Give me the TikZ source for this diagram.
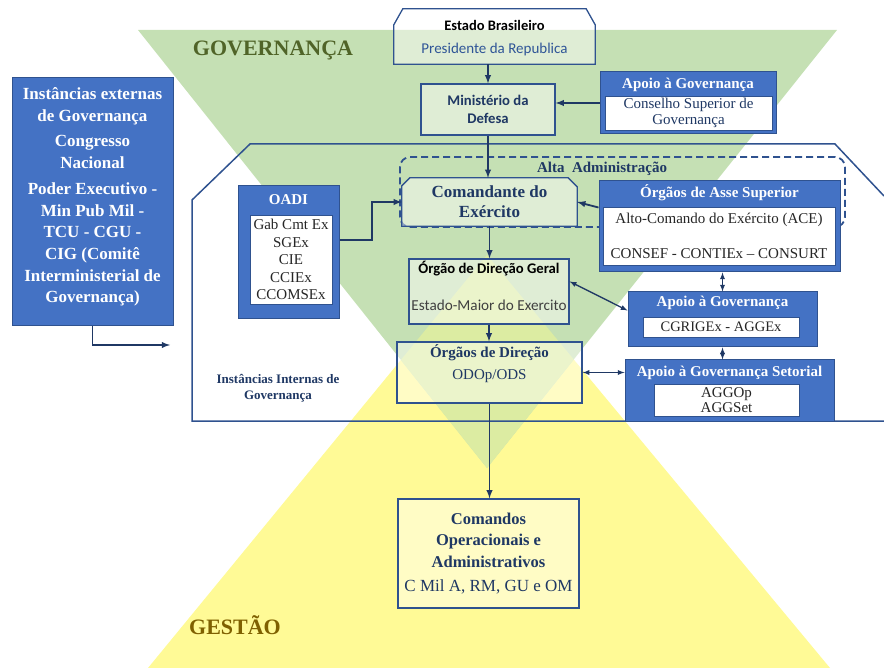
\documentclass[tikz,border=0pt]{standalone}
\usepackage{fontspec}
\setmainfont{Liberation Serif}
\newfontfamily\calibri{Carlito}

\definecolor{govgreen}{RGB}{197,224,180}
\definecolor{gestyellow}{RGB}{255,250,150}
\definecolor{overlapcol}{RGB}{220,236,162}
\definecolor{bluefill}{RGB}{68,114,196}
\definecolor{bordblue}{RGB}{47,82,143}
\definecolor{navy}{RGB}{31,56,100}
\definecolor{presblue}{RGB}{47,85,151}
\definecolor{govtext}{RGB}{80,100,40}
\definecolor{gesttext}{RGB}{127,96,0}

\begin{document}
\begin{tikzpicture}[>=latex, x=1pt, y=-1pt,
    lightbox/.style={draw=bordblue, line width=1.3pt, fill=white, fill opacity=0.45, text opacity=1, inner sep=0pt, align=center},
    slot/.style={inner sep=0pt},
    bluebox/.style={draw=bordblue, line width=1pt, fill=bluefill, inner sep=0pt},
    whitebox/.style={draw=bordblue, line width=0.8pt, fill=white, inner sep=0pt, align=center, text=black!85, font=\fontsize{15}{16.5}\selectfont},
    bluetitle/.style={text=white, font=\bfseries\fontsize{15}{16}\selectfont},
    link/.style={->, draw=navy, line width=1.8pt},
    twoway/.style={<->, draw=navy, line width=1.3pt},
]
    \useasboundingbox (0,0) rectangle (884,668);

    % Fundo: governanca e gestao
    \fill[gestyellow] (487,255) -- (148,668) -- (830,668) -- cycle;
    \fill[govgreen] (138,30) -- (837,30) -- (487,468) -- cycle;
    \begin{scope}
        \clip (138,30) -- (837,30) -- (487,468) -- cycle;
        \fill[overlapcol] (487,255) -- (148,668) -- (830,668) -- cycle;
    \end{scope}
    \node[text=govtext, font=\bfseries\fontsize{22}{24}\selectfont] (govLbl) at (273,50) {GOVERNANÇA};
    \node[text=gesttext, font=\bfseries\fontsize{22}{24}\selectfont] (gestLbl) at (235,625) {GESTÃO};

    % Instancias internas
    \draw[bordblue, line width=1.5pt] (884,421) -- (192,421) -- (192,200) -- (250,144) -- (835,144) -- (884,196);
    \node[text=navy, font=\bfseries\fontsize{13}{16}\selectfont, align=center] (intLbl) at (278,388) {Instâncias Internas de\\Governança};

    % Alta Administracao
    \node[draw=bordblue, dashed, dash pattern=on 7pt off 4pt, line width=1.8pt, rounded corners=10pt,
          minimum width=445pt, minimum height=70pt] (alta) at (622.5,192) {};
    \node[text=navy, font=\bfseries\fontsize{15}{17}\selectfont] (altaLbl) at (602,169) {Alta\ \ Administração};

    % Estado e Ministerio
    \node[slot, minimum width=201pt, minimum height=55pt] (est) at (494.5,36.5) {};
    \draw[lightbox] (est.south west) -- ([yshift=-16pt]est.north west) -- ([xshift=9pt]est.north west)
        -- ([xshift=-9pt]est.north east) -- ([yshift=-16pt]est.north east) -- (est.south east) -- cycle;
    \node[font=\calibri\bfseries\fontsize{14.5}{16}\selectfont] (estT) at (494.5,25) {Estado Brasileiro};
    \node[text=presblue, font=\calibri\fontsize{15}{17}\selectfont] (presT) at (494.5,50) {Presidente da Republica};
    \node[lightbox, minimum width=134pt, minimum height=51pt, text=navy,
          font=\calibri\bfseries\fontsize{14.7}{17.5}\selectfont] (min) at (488,109.5) {Ministério da\\Defesa};

    % Apoio a Governanca (Conselho)
    \node[bluebox, minimum width=176pt, minimum height=62pt] (apg) at (688,103) {};
    \node[bluetitle] (apgT) at (688,85) {Apoio à Governança};
    \node[whitebox, minimum width=167pt, minimum height=34pt, text=navy] (apgIn) at (688.5,113) {Conselho Superior de\\Governança};

    % Instancias externas
    \node[bluebox, minimum width=161pt, minimum height=248pt] (ext) at (92.5,202) {};
    \node[text=white, font=\bfseries\fontsize{17}{21.7}\selectfont, align=center] (extT) at (92.5,197)
        {Instâncias externas\\de Governança\\[4pt]Congresso\\Nacional\\[4pt]Poder Executivo -\\Min Pub Mil -\\TCU - CGU -\\CIG (Comitê\\Interministerial de\\Governança)};
    \coordinate (extEnd) at (170,345);

    % Comandante
    \node[slot, minimum width=175pt, minimum height=48pt] (cmte) at (489.5,202) {};
    \draw[lightbox] (cmte.south west) -- ([yshift=-8pt]cmte.north west) -- ([xshift=8pt]cmte.north west)
        -- ([xshift=-9pt]cmte.north east) -- ([yshift=-9pt]cmte.north east) -- (cmte.south east) -- cycle;
    \node[text=navy, font=\bfseries\fontsize{17}{20}\selectfont, align=center] (cmteT) at (cmte.center) {Comandante do\\Exército};

    % OADI
    \node[bluebox, minimum width=101pt, minimum height=133pt] (oadi) at (288.5,252.5) {};
    \node[bluetitle] (oadiT) at (288.5,200) {OADI};
    \node[whitebox, minimum width=82pt, minimum height=89pt, font=\fontsize{15}{17.5}\selectfont] (oadiIn) at (291,259.5)
        {Gab Cmt Ex\\SGEx\\CIE\\CCIEx\\CCOMSEx};

    % Orgaos de Asse Superior
    \node[bluebox, minimum width=241pt, minimum height=91pt] (ose) at (719.5,226.5) {};
    \node[bluetitle] (oseT) at (719.5,193) {Órgãos de Asse Superior};
    \node[whitebox, minimum width=232pt, minimum height=58pt] (oseIn) at (719,236)
        {Alto-Comando do Exército (ACE)\\[19pt]CONSEF - CONTIEx -- CONSURT};

    % Orgao de Direcao Geral
    \node[lightbox, minimum width=160pt, minimum height=65pt] (odg) at (489,291.5) {};
    \node[font=\calibri\bfseries\fontsize{14.7}{16}\selectfont] (odgT) at (489,269) {Órgão de Direção Geral};
    \node[text=black!75, font=\calibri\fontsize{15.2}{17}\selectfont] (emeT) at (489,305) {Estado-Maior do Exercito};

    % Apoio a Governanca
    \node[bluebox, minimum width=189pt, minimum height=55pt] (agv) at (722.5,319.5) {};
    \node[bluetitle] (agvT) at (722.5,303) {Apoio à Governança};
    \node[whitebox, minimum width=156pt, minimum height=20pt, font=\fontsize{14.5}{16}\selectfont] (agvIn) at (721,327) {CGRIGEx - AGGEx};

    % Apoio a Governanca Setorial
    \node[bluebox, minimum width=209pt, minimum height=61pt] (ags) at (729.5,390.5) {};
    \node[bluetitle] (agsT) at (729.5,373) {Apoio à Governança Setorial};
    \node[whitebox, minimum width=145pt, minimum height=32pt, font=\fontsize{15}{15}\selectfont] (agsIn) at (726.5,400) {AGGOp\\AGGSet};

    % Orgaos de Direcao
    \node[lightbox, minimum width=185pt, minimum height=61pt] (ods) at (489.5,372.5) {};
    \node[text=navy, font=\bfseries\fontsize{15}{17}\selectfont] (odsT) at (489.5,353) {Órgãos de Direção};
    \node[text=navy, font=\fontsize{15}{17}\selectfont] (odsSub) at (489.5,376) {ODOp/ODS};

    % Comandos
    \node[lightbox, minimum width=181pt, minimum height=109pt, text=navy,
          font=\fontsize{16.5}{21.5}\selectfont] (com) at (488.5,553.5)
        {\textbf{Comandos}\\\textbf{Operacionais e}\\\textbf{Administrativos}\\[3pt]{\fontsize{17}{20}\selectfont C Mil A, RM, GU e OM}};

    % Ligacoes
    \draw[link] (min.north |- est.south) -- (min.north);
    \draw[link] (apg.west) -- (min.east |- apg.west);
    \draw[link] (min.south) -- (min.south |- cmte.north);
    \draw[link] (cmte.south) -- (cmte.south |- odg.north);
    \draw[link] (odg.south) -- (odg.south |- ods.north);
    \draw[link] (ods.south) -- (ods.south |- com.north);
    \draw[link] (oadi.east |- 0,240) -- (372,240) |- (cmte.west);
    \draw[link] ([yshift=-27pt]ose.north west) -- (cmte.east);
    \draw[link] (ext.south) |- (extEnd);
    \draw[twoway] ([yshift=10pt]odg.east) -- ([yshift=9pt]agv.west);
    \draw[twoway] (agv.north |- ose.south) -- (agv.north);
    \draw[twoway] (agv.south) -- (agv.south |- ags.north);
    \draw[twoway] (ods.east) -- (ods.east -| ags.west);
\end{tikzpicture}
\end{document}
